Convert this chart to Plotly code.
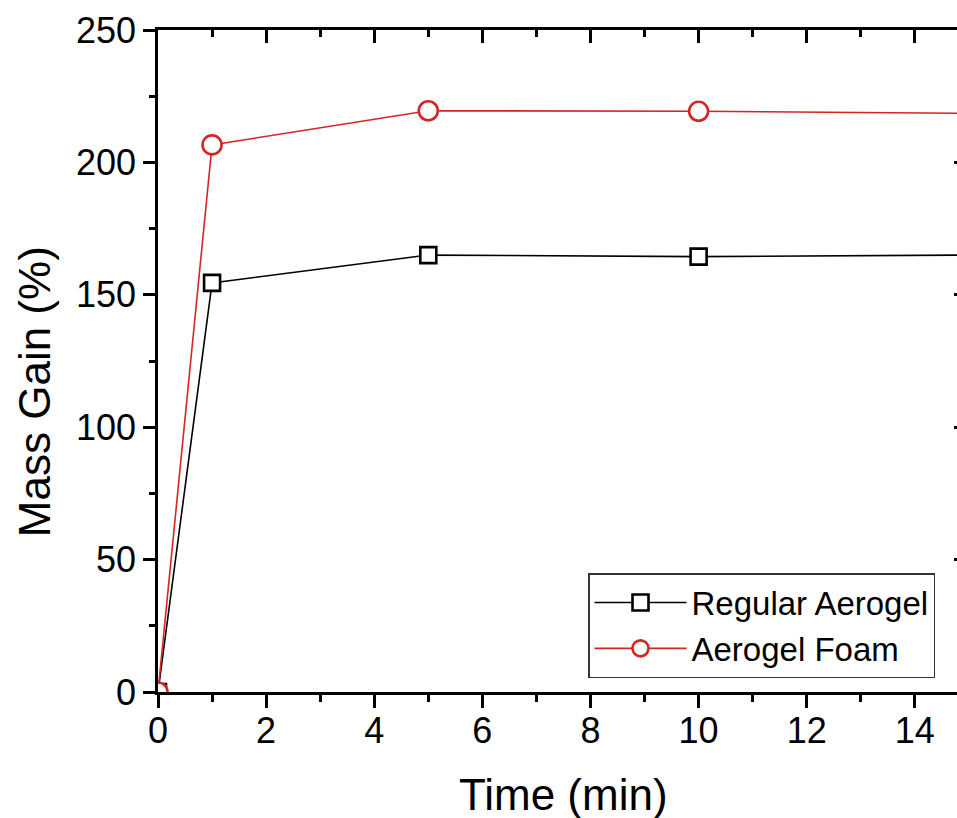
import plotly.graph_objects as go

time_min = [0, 1, 5, 10, 15]
regular_aerogel = [0, 154.5, 165.0, 164.4, 165.0]
aerogel_foam = [0, 206.6, 219.5, 219.3, 218.5]
x_ticks = [0, 2, 4, 6, 8, 10, 12, 14]
y_ticks = [0, 50, 100, 150, 200, 250]

FONT = "Liberation Sans, Arial, sans-serif"
RED = "#d42424"

fig = go.Figure()
fig.add_trace(go.Scatter(
    x=time_min, y=regular_aerogel, name="Regular Aerogel", mode="lines+markers",
    line=dict(color="black", width=1.6),
    marker=dict(symbol="square", size=16, color="white", line=dict(color="black", width=2.6)),
))
fig.add_trace(go.Scatter(
    x=time_min, y=aerogel_foam, name="Aerogel Foam", mode="lines+markers",
    line=dict(color=RED, width=1.6),
    marker=dict(symbol="circle", size=19, color="white", line=dict(color=RED, width=2.6)),
))
# dummy trace to realize the mirrored top axis
fig.add_trace(go.Scatter(x=time_min, y=regular_aerogel, xaxis="x2", yaxis="y2",
                         mode="markers", marker=dict(opacity=0), showlegend=False,
                         hoverinfo="skip"))

xr = [0, 14.78]
yr = [0, 250]

fig.update_layout(
    width=957, height=818,
    margin=dict(l=158, r=0, t=30, b=126),
    paper_bgcolor="white", plot_bgcolor="white",
    font=dict(family=FONT, color="black", size=36),
    showlegend=True,
    legend=dict(
        x=(588 - 158) / 799, y=(692 - 573) / 662, xanchor="left", yanchor="top",
        bordercolor="#333333", borderwidth=1.5, bgcolor="white",
        font=dict(family=FONT, size=33, color="black"),
        itemwidth=92, tracegroupgap=0,
    ),
    xaxis=dict(
        range=xr, showgrid=False, zeroline=False,
        showline=True, linecolor="black", linewidth=2.5,
        ticks="outside", ticklen=13, tickwidth=2.5, tickcolor="black",
        tickvals=x_ticks, ticktext=[str(v) for v in x_ticks],
        tickfont=dict(size=36), ticklabelstandoff=-8,
        minor=dict(dtick=1, tick0=0, ticks="outside", ticklen=7, tickwidth=2.5, tickcolor="black"),
    ),
    xaxis2=dict(
        range=xr, overlaying="x", side="top", anchor="y",
        showgrid=False, zeroline=False, showticklabels=False,
        showline=True, linecolor="black", linewidth=2.5,
        ticks="inside", ticklen=13, tickwidth=2.5, tickcolor="black",
        tickvals=x_ticks,
        minor=dict(dtick=1, tick0=0, ticks="inside", ticklen=7, tickwidth=2.5, tickcolor="black"),
    ),
    yaxis=dict(
        range=yr, showgrid=False, zeroline=False,
        showline=True, linecolor="black", linewidth=2.5,
        ticks="outside", ticklen=12, tickwidth=2.5, tickcolor="black",
        tickvals=y_ticks, ticktext=[str(v) for v in y_ticks],
        tickfont=dict(size=36),
        minor=dict(dtick=25, tick0=0, ticks="outside", ticklen=6, tickwidth=2.5, tickcolor="black"),
    ),
    yaxis2=dict(
        range=yr, overlaying="y", side="right", anchor="free", position=1,
        showgrid=False, zeroline=False, showticklabels=False, showline=False,
        ticks="inside", ticklen=3, tickwidth=2.5, tickcolor="black",
        tickvals=y_ticks,
    ),
    annotations=[
        dict(text="Time (min)", xref="x", yref="paper", x=7.5, y=-0.155,
             xanchor="center", yanchor="middle", showarrow=False,
             font=dict(family=FONT, size=44, color="black")),
        dict(text="Mass Gain (%)", xref="paper", yref="paper", x=-0.155, y=(692 - 392) / 662,
             xanchor="center", yanchor="middle", textangle=-90, showarrow=False,
             font=dict(family=FONT, size=44, color="black")),
    ],
)

fig.write_html("out.html")
